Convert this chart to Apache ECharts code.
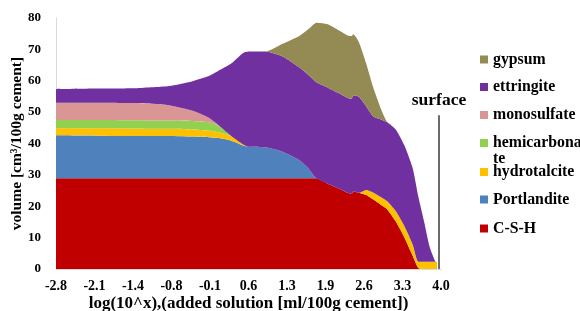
<!DOCTYPE html>
<html>
<head>
<meta charset="utf-8">
<script src="https://cdn.jsdelivr.net/npm/echarts@6/dist/echarts.min.js"></script>
<style>html,body{margin:0;padding:0;background:#fff}#c{width:580px;height:311px}</style>
</head>
<body>
<div id="c"></div>
<script>
// x positions (log units)
const xValues = [-2.8, -2.1, -1.4, -1.1, -0.8, -0.4, -0.1, 0.1, 0.3, 0.5, 0.6, 0.9, 1.2, 1.5, 1.65, 1.8, 2.0, 2.2, 2.35, 2.42, 2.45, 2.55, 2.68, 2.8, 2.95, 3.05, 3.2, 3.35, 3.5, 3.6, 3.7, 3.8, 3.9, 3.93];
// layer thicknesses (cm3/100g cement), stacked bottom to top
const csh = [28.9, 28.9, 28.9, 28.9, 28.9, 28.9, 28.9, 28.9, 28.9, 28.9, 28.9, 28.9, 28.9, 28.9, 28.9, 28.9, 27.2, 25.6, 24.3, 23.9, 24.8, 24.3, 23.6, 22.2, 20.3, 19.0, 15.2, 10.2, 4.2, 0.3, 0, 0, 0, 0];
const portlandite = [13.7, 13.6, 13.5, 13.5, 13.5, 13.3, 13.1, 12.8, 12.0, 10.5, 10.1, 9.9, 8.5, 5.8, 3.3, 0, 0, 0, 0, 0, 0, 0, 0, 0, 0, 0, 0, 0, 0, 0, 0, 0, 0, 0];
const hydrotalcite = [2.3, 2.4, 2.4, 2.3, 2.3, 2.3, 2.1, 1.8, 1.4, 0.4, 0, 0, 0, 0, 0, 0, 0, 0, 0, 0, 0, 0, 1.6, 2.2, 2.5, 2.6, 3.3, 3.6, 3.6, 2.0, 2.3, 2.3, 2.3, 2.3];
const hemicarbonate = [2.6, 2.6, 2.6, 2.6, 2.6, 2.7, 2.7, 1.9, 0, 0, 0, 0, 0, 0, 0, 0, 0, 0, 0, 0, 0, 0, 0, 0, 0, 0, 0, 0, 0, 0, 0, 0, 0, 0];
const monosulfate = [5.5, 5.5, 5.5, 5.4, 4.9, 3.3, 1.4, 0, 0, 0, 0, 0, 0, 0, 0, 0, 0, 0, 0, 0, 0, 0, 0, 0, 0, 0, 0, 0, 0, 0, 0, 0, 0, 0];
const ettringite = [4.3, 4.5, 4.7, 5.2, 6.1, 9.3, 13.3, 18.1, 23.3, 29.0, 30.3, 30.5, 30.3, 29.5, 29.8, 30.6, 30.6, 30.4, 30.2, 30.4, 30.6, 30.6, 26.6, 24.3, 24.8, 25.2, 26.0, 25.7, 24.3, 20.7, 12.9, 4.7, 0.1, 0];
const gypsum = [0, 0, 0, 0, 0, 0, 0, 0, 0, 0, 0, 0, 4.1, 10.1, 14.3, 19.0, 20.2, 20.0, 19.9, 19.9, 19.4, 17.4, 13.6, 9.3, 2.9, 0, 0, 0, 0, 0, 0, 0, 0, 0];
// axis ticks
const xTickValues = [-2.8, -2.12, -1.44, -0.76, -0.08, 0.6, 1.28, 1.96, 2.64, 3.32, 4.0];
const xTickLabels = ['-2.8', '-2.1', '-1.4', '-0.8', '-0.1', '0.6', '1.3', '1.9', '2.6', '3.3', '4.0'];
const surfaceX = 3.965;
const surfaceTop = 49;

const seriesNames = ['C-S-H', 'Portlandite', 'hydrotalcite', 'hemicarbonate', 'monosulfate', 'ettringite', 'gypsum'];
const seriesData = [csh, portlandite, hydrotalcite, hemicarbonate, monosulfate, ettringite, gypsum];
const seriesColors = ['#C00000', '#4F81BD', '#FFC000', '#92D050', '#D99694', '#7030A0', '#948A54'];

const legendOrder = ['gypsum', 'ettringite', 'monosulfate', 'hemicarbonate', 'hydrotalcite', 'Portlandite', 'C-S-H'];
const legendCenterY = [59.5, 87, 115, 143, 172, 199.5, 228.5];

const FONT = "'Liberation Serif', 'Times New Roman', serif";
const LEGEND_FONT = 15.8;

const chart = echarts.init(document.getElementById('c'), null, {renderer: 'canvas'});

// value first so that the stack is computed on the y dimension
const series = seriesNames.map((n, i) => ({
  name: n,
  type: 'line',
  stack: 'total',
  data: xValues.map((x, j) => [seriesData[i][j], x]),
  encode: {x: 1, y: 0},
  showSymbol: false,
  symbol: 'none',
  smooth: 0.2,
  color: seriesColors[i],
  lineStyle: {width: 0, color: seriesColors[i]},
  itemStyle: {color: seriesColors[i]},
  areaStyle: {color: seriesColors[i], opacity: 1},
  silent: true
}));

series.push({
  name: 'surface',
  type: 'scatter',
  data: [],
  silent: true,
  markLine: {
    silent: true,
    symbol: ['none', 'none'],
    animation: false,
    lineStyle: {color: '#3a3a3a', width: 1.5, type: 'solid'},
    label: {
      show: true, position: 'end', formatter: 'surface', distance: 6,
      fontFamily: FONT, fontWeight: 'bold', fontSize: 17.5, color: '#000'
    },
    data: [[{coord: [surfaceX, 0]}, {coord: [surfaceX, surfaceTop]}]]
  }
});

const legends = legendOrder.map((n, i) => ({
  data: [n],
  formatter: (name) => name === 'hemicarbonate' ? 'hemicarbona' : name,
  orient: 'vertical',
  left: 480,
  top: legendCenterY[i] - 8,
  padding: 0,
  itemWidth: 8,
  itemHeight: 8,
  itemGap: 0,
  icon: 'rect',
  selectedMode: false,
  textStyle: {fontFamily: FONT, fontWeight: 'bold', fontSize: LEGEND_FONT, lineHeight: 16, color: '#000'}
}));

chart.setOption({
  animation: false,
  backgroundColor: '#fff',
  grid: {left: 56, right: 139, top: 18, bottom: 42, containLabel: false, outerBoundsMode: 'none'},
  legend: legends,
  graphic: [{
    type: 'text',
    left: 493,
    top: 159 - 8,
    silent: true,
    style: {text: 'te', fontFamily: FONT, fontWeight: 'bold', fontSize: LEGEND_FONT, lineHeight: 16, fill: '#000'}
  }],
  xAxis: {
    type: 'value',
    min: -2.8,
    max: 4.0,
    name: 'log(10^x),(added solution [ml/100g cement])',
    nameLocation: 'middle',
    nameGap: 26,
    nameMoveOverlap: false,
    nameTextStyle: {fontFamily: FONT, fontWeight: 'bold', fontSize: 17, color: '#000'},
    axisLine: {show: true, onZero: false, lineStyle: {color: '#D9D9D9', width: 1}},
    axisTick: {show: false},
    splitLine: {show: false},
    axisLabel: {
      customValues: xTickValues,
      formatter: (v) => {
        let best = 0;
        for (let k = 1; k < xTickValues.length; k++) {
          if (Math.abs(xTickValues[k] - v) < Math.abs(xTickValues[best] - v)) best = k;
        }
        return xTickLabels[best];
      },
      margin: 10,
      fontFamily: FONT, fontWeight: 'bold', fontSize: 14, color: '#000'
    }
  },
  yAxis: {
    type: 'value',
    min: 0,
    max: 80,
    interval: 10,
    name: 'volume [cm³/100g cement]',
    nameLocation: 'middle',
    nameRotate: 90,
    nameGap: 31,
    nameMoveOverlap: false,
    nameTextStyle: {fontFamily: FONT, fontWeight: 'bold', fontSize: 15.5, color: '#000'},
    axisLine: {show: true, onZero: false, lineStyle: {color: '#D9D9D9', width: 1}},
    axisTick: {show: false},
    splitLine: {show: false},
    axisLabel: {margin: 15, fontFamily: FONT, fontWeight: 'bold', fontSize: 13, color: '#000'}
  },
  series: series
});
</script>
</body>
</html>
